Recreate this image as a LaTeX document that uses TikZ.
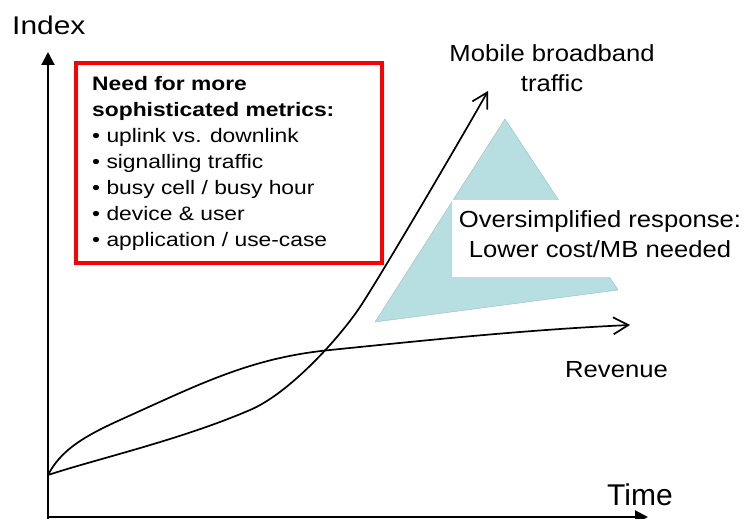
\documentclass[tikz,border=0pt]{standalone}
\usepackage{fontspec}
\setmainfont{Liberation Sans}[FakeStretch=1.1]
\newfontfamily\widefont{Liberation Sans}[FakeStretch=1.17]
\newfontfamily\plainfont{Liberation Sans}
\usetikzlibrary{arrows.meta}
\definecolor{tealfill}{RGB}{183,222,224}
\definecolor{tealedge}{RGB}{160,196,200}
\begin{document}
\begin{tikzpicture}[x=1pt,y=-1pt,
  axis/.style={line width=2.2pt,-{Triangle[length=13pt,width=13pt]}},
  curve/.style={line width=1.7pt,-{Straight Barb[length=15pt,width=17pt]}},
  lbl/.style={inner sep=0pt,font=\fontsize{23.3}{30}\selectfont},
]
\useasboundingbox (0,0) rectangle (744,519);

% axes
\coordinate (ybase) at (48,519);
\coordinate (xbase) at (46.9,517);
\coordinate (ytip) at (48,52);
\coordinate (xtip) at (648,517);
\draw[axis] (ybase) -- (ytip);
\draw[axis] (xbase) -- (xtip);
\node[inner sep=0pt,anchor=base west,font=\widefont\fontsize{25.6}{30}\selectfont] (index) at (12,35) {Index};
\node[inner sep=0pt,anchor=base west,font=\plainfont\fontsize{30}{36}\selectfont] (time) at (607,505) {Time};

% cost response triangle with its label (base anchor = last line)
\fill[tealfill,draw=tealedge,line width=0.5pt] (505,119) -- (618,290) -- (375,322) -- cycle;
\fill[white] (452,200) rectangle (744,277);
\node[lbl,anchor=base,align=center] (response) at (600,257) {Oversimplified response:\\Lower cost/MB needed};

% revenue and traffic curves from a common start
\coordinate (start) at (48,475);
\coordinate (revtip) at (630,325);
\coordinate (traftip) at (488,91);
\draw[curve] (start) .. controls (60,452) and (80,438) .. (120,420)
  .. controls (200,384) and (250,358) .. (330,350)
  .. controls (410,342) and (520,330) .. (revtip);
\draw[curve] (start) .. controls (100,458) and (180,440) .. (250,410)
  .. controls (290,393) and (340,337) .. (360,307)
  .. controls (380,277) and (462,137) .. (traftip);
\node[lbl,anchor=base,align=center] (traffic) at (552,92) {Mobile broadband\\traffic};
\node[lbl,anchor=base west] (revenue) at (565,377) {Revenue};

% metrics panel
\node[draw=red,line width=4pt,minimum width=306pt,minimum height=199.5pt,anchor=north west,inner sep=0pt] (panel) at (73.5,61.5) {};
\node[inner sep=0pt,anchor=base west,align=left,font=\widefont\fontsize{19.5}{26}\selectfont] (metrics) at (92,246)
  {\textbf{Need for more}\\\textbf{sophisticated metrics:}\\\textbullet{} uplink vs. downlink\\\textbullet{} signalling traffic\\\textbullet{} busy cell / busy hour\\\textbullet{} device \& user\\\textbullet{} application / use-case};
\end{tikzpicture}
\end{document}
